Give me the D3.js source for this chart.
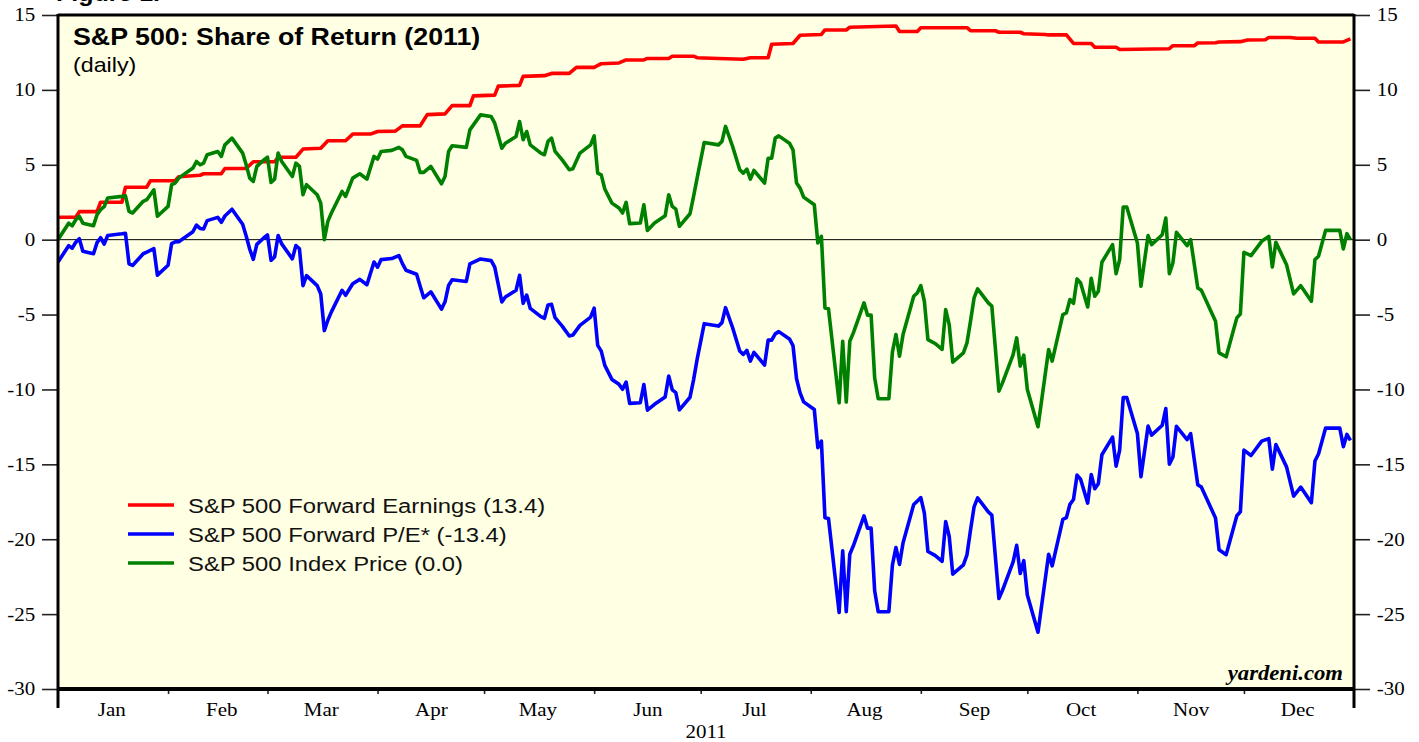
<!DOCTYPE html>
<html>
<head>
<meta charset="utf-8">
<script src="https://cdn.jsdelivr.net/npm/d3@7"></script>
<style>
  body { margin: 0; background: #fff; }
  svg { display: block; }
</style>
</head>
<body>
<svg width="1419" height="742"></svg>
<script>
// days counted from 1 Jan 2011
var priceDays = [
  0,3,4,5,6,7,10,11,12,13,
  14,18,19,20,21,24,25,27,28,31,
  32,33,34,38,39,40,41,42,45,46,
  47,49,52,53,54,55,56,58,59,60,
  61,62,63,66,67,68,69,70,73,74,
  75,76,77,80,81,83,85,87,89,90,
  91,94,96,97,98,101,102,103,105,108,
  109,110,111,115,116,119,122,123,125,126,
  129,130,131,132,133,136,137,138,139,140,
  142,144,145,147,150,151,152,153,154,156,
  158,159,160,161,164,165,166,168,171,172,
  173,174,175,178,179,180,182,186,187,188,
  190,192,193,194,195,196,199,200,201,202,
  203,206,207,208,209,210,213,214,215,216,
  217,220,221,222,223,224,227,228,229,230,
  231,234,235,236,237,238,241,242,243,244,
  245,247,249,250,251,252,255,256,257,258,
  259,262,263,265,266,269,270,271,272,273,
  276,279,280,283,284,285,286,287,288,290,
  291,292,293,294,297,298,299,300,301,304,
  305,307,308,311,312,313,314,315,318,319,
  321,322,326,327,329,332,333,334,336,339,
  341,342,343,346,348,350,353,354,355,357,
  361,362,363,364
];

// S&P 500 Index Price share of return
var priceVals = [
  0,1.1,0.93,1.33,1.56,1.1,0.93,1.67,2.0,2.2,
  2.78,2.89,2.93,1.89,1.78,2.56,2.67,3.33,1.56,2.22,
  3.67,3.78,4.11,4.78,5.22,5.0,5.11,5.67,5.89,5.56,
  6.33,6.78,5.78,5.0,4.11,3.89,4.89,5.33,5.51,3.82,
  4.04,5.78,5.22,4.22,5.11,4.89,3.0,3.67,3.0,2.44,
  0.0,1.22,1.78,3.22,2.89,4.11,4.4,4.04,5.56,5.38,
  5.89,5.96,6.16,6.0,5.56,5.29,4.49,4.49,4.89,3.73,
  4.22,5.89,6.27,6.16,7.33,8.33,8.22,7.78,6.11,6.44,
  6.89,7.89,6.67,7.22,6.33,5.78,5.67,6.56,6.78,5.89,
  5.33,4.67,4.73,5.78,6.33,6.93,4.44,4.33,3.38,2.44,
  2.11,1.78,2.49,1.07,1.11,2.33,0.62,1.11,1.6,3.0,
  2.22,2.04,0.89,1.73,2.89,4.11,6.49,6.33,6.56,7.56,
  6.22,4.67,4.44,4.71,4.04,4.62,3.78,5.44,5.44,6.78,
  6.93,6.44,6.0,3.78,3.44,2.84,2.33,-0.22,0.22,-4.56,
  -4.62,-10.89,-6.78,-10.84,-6.78,-6.22,-4.22,-5.04,-5.04,-9.22,
  -10.62,-10.62,-7.51,-6.33,-7.78,-6.33,-3.78,-3.56,-3.07,-4.11,
  -6.67,-6.93,-7.33,-4.67,-5.67,-8.18,-7.56,-6.89,-5.44,-3.89,
  -3.29,-4.22,-4.44,-10.11,-9.56,-7.67,-6.56,-8.44,-7.71,-10.0,
  -12.49,-7.33,-8.11,-5.0,-4.89,-4.0,-4.25,-2.62,-2.89,-4.49,
  -2.58,-3.78,-3.44,-1.51,-0.33,-2.27,-1.33,2.18,2.18,-0.22,
  -3.11,0.27,-0.33,0.33,1.44,-2.27,-1.56,0.49,-0.4,0.0,
  -3.22,-3.38,-5.44,-7.56,-7.82,-5.22,-4.96,-0.84,-1.07,-0.11,
  0.22,-1.82,-0.18,-1.67,-3.62,-3.07,-4.11,-1.33,-1.11,0.62,
  0.62,-0.62,0.4,0.0
];

// S&P 500 Forward P/E share of return (same days as price)
var peVals = [
  -1.5,-0.4,-0.57,-0.17,0.06,-0.77,-0.94,-0.2,0.13,-0.3,
  0.28,0.39,0.43,-1.61,-1.72,-0.94,-0.83,-0.6,-2.37,-1.71,
  -0.26,-0.15,-0.14,0.53,0.97,0.75,0.71,1.27,1.49,1.16,
  1.58,2.03,1.03,0.25,-0.64,-1.31,-0.31,0.13,0.31,-1.38,
  -1.16,0.28,-0.28,-1.28,-0.39,-0.61,-3.07,-2.4,-3.07,-3.63,
  -6.07,-5.38,-4.82,-3.38,-3.71,-2.94,-2.65,-3.01,-1.49,-1.84,
  -1.33,-1.26,-1.06,-1.6,-2.04,-2.31,-3.11,-3.88,-3.48,-4.64,
  -4.15,-3.06,-2.68,-2.79,-1.62,-1.29,-1.4,-1.84,-4.16,-3.83,
  -3.38,-2.38,-4.25,-3.7,-4.59,-5.14,-5.25,-4.36,-4.32,-5.21,
  -5.77,-6.43,-6.37,-5.72,-5.17,-4.57,-7.06,-7.44,-8.39,-9.33,
  -9.66,-9.99,-9.51,-10.93,-10.89,-9.67,-11.38,-10.99,-10.5,-9.1,
  -10.03,-10.21,-11.36,-10.52,-9.36,-7.99,-5.61,-5.77,-5.54,-4.54,
  -5.88,-7.43,-7.66,-7.39,-8.11,-7.53,-8.37,-6.71,-6.71,-6.29,
  -6.14,-6.63,-7.07,-9.29,-10.23,-10.83,-11.34,-13.89,-13.45,-18.56,
  -18.62,-24.89,-20.78,-24.84,-21.0,-20.44,-18.44,-19.26,-19.26,-23.44,
  -24.84,-24.84,-21.73,-20.55,-21.68,-20.23,-17.68,-17.46,-17.22,-18.26,
  -20.82,-21.08,-21.48,-18.82,-19.82,-22.33,-21.71,-21.04,-19.39,-17.84,
  -17.24,-18.17,-18.39,-23.96,-23.41,-21.52,-20.41,-22.29,-21.43,-23.72,
  -26.21,-21.0,-21.78,-18.67,-18.56,-17.67,-17.35,-15.72,-15.99,-17.59,
  -15.68,-16.63,-16.29,-14.36,-13.18,-15.12,-14.05,-10.54,-10.54,-12.94,
  -15.83,-12.45,-13.05,-12.39,-11.28,-14.99,-14.51,-12.46,-13.35,-12.95,
  -16.36,-16.52,-18.58,-20.7,-21.03,-18.43,-18.17,-14.05,-14.41,-13.45,
  -13.28,-15.32,-13.68,-15.17,-17.12,-16.52,-17.56,-14.78,-14.31,-12.58,
  -12.58,-13.82,-13.0,-13.4
];

// S&P 500 Forward Earnings share of return
var earnDays = [
  0,5,6,11,12,18,19,25,26,33,
  34,40,41,46,47,53,55,61,62,67,
  69,74,76,81,83,88,90,95,97,102,
  104,109,111,116,117,123,124,130,131,137,
  139,144,146,151,153,158,160,165,166,172,
  173,179,180,186,193,195,200,201,207,209,
  215,216,222,223,236,237,242,243,256,257,
  264,265,271,272,278,279,284,286,291,292,
  298,299,313,314,320,321,326,327,333,335,
  340,341,347,349,354,355,362,364
];
var earnVals = [
  1.5,1.5,1.87,1.87,2.5,2.5,3.5,3.5,3.93,3.93,
  4.2,4.3,4.4,4.4,4.75,4.75,5.2,5.2,5.5,5.5,
  6.05,6.1,6.6,6.6,7.05,7.05,7.22,7.25,7.6,7.6,
  8.35,8.4,8.95,8.95,9.6,9.65,10.25,10.3,10.9,10.95,
  11.1,11.1,11.5,11.5,11.75,11.8,12.0,12.0,12.1,12.1,
  12.25,12.25,12.15,12.1,12.05,12.15,12.15,13.05,13.1,13.65,
  13.7,14.0,14.0,14.18,14.27,13.9,13.9,14.15,14.15,13.95,
  13.95,13.85,13.85,13.75,13.7,13.67,13.67,13.1,13.1,12.85,
  12.85,12.7,12.75,12.95,12.95,13.13,13.15,13.2,13.22,13.33,
  13.35,13.5,13.5,13.45,13.45,13.2,13.2,13.4
];

var yTicks = [15, 10, 5, 0, -5, -10, -15, -20, -25, -30];
var legendLabels = [
  'S&P 500 Forward Earnings (13.4)',
  'S&P 500 Forward P/E* (-13.4)',
  'S&P 500 Index Price (0.0)'
];
var colors = ['#ff0000', '#0000ff', '#008000'];

var svg = d3.select('svg');
var plotL = 58, plotR = 1354, plotT = 15, plotB = 689;
var sx = 1.135; // text in the original is drawn a bit wide

function toDate(d) {
  return new Date(2011, 0, 1 + d);
}

var x = d3.scaleTime()
  .domain([new Date(2011, 0, 1), new Date(2012, 0, 1)])
  .range([plotL, plotR]);
var y = d3.scaleLinear().domain([-30, 15]).range([plotB, plotT]);

function wideText(g, px, py, str) {
  return g.append('text')
    .attr('transform', 'translate(' + px + ',' + py + ') scale(' + sx + ',1)')
    .text(str);
}

// partly cut figure caption at the very top
wideText(svg, 56, 1, 'Figure 1.')
  .attr('font-family', 'Liberation Sans, Arial, sans-serif')
  .attr('font-weight', 'bold')
  .attr('font-size', 22);

svg.append('rect')
  .attr('x', plotL).attr('y', plotT)
  .attr('width', plotR - plotL).attr('height', plotB - plotT)
  .attr('fill', '#ffffe3');

// zero line
svg.append('line')
  .attr('x1', plotL).attr('x2', plotR)
  .attr('y1', y(0)).attr('y2', y(0))
  .attr('stroke', '#000').attr('stroke-width', 1);

// axes
function styleAxis(g) {
  g.select('.domain').remove();
  g.selectAll('.tick line').attr('stroke', '#222').attr('stroke-width', 1.6);
  g.selectAll('.tick text')
    .attr('font-family', 'Liberation Serif, Times New Roman, serif')
    .attr('font-size', 18.5)
    .attr('fill', '#000');
}

function plainNum(v) {
  return String(v);
}

var yLeft = svg.append('g')
  .attr('transform', 'translate(' + plotL + ',0)')
  .call(d3.axisLeft(y).tickValues(yTicks).tickFormat(plainNum).tickSize(16).tickPadding(4));
styleAxis(yLeft);
yLeft.selectAll('.tick text').attr('transform', 'scale(' + sx + ',1)');

var yRight = svg.append('g')
  .attr('transform', 'translate(' + plotR + ',0)')
  .call(d3.axisRight(y).tickValues(yTicks).tickFormat(plainNum).tickSize(16).tickPadding(4));
styleAxis(yRight);
yRight.selectAll('.tick text').attr('transform', 'scale(' + sx + ',1)');

var monthStarts = d3.timeMonth.range(new Date(2011, 0, 1), new Date(2012, 0, 1));
var xTicks = svg.append('g')
  .attr('transform', 'translate(0,' + plotB + ')')
  .call(d3.axisBottom(x).tickValues(monthStarts.slice(1)).tickSize(5).tickFormat(''));
styleAxis(xTicks);

var midMonths = monthStarts.map(function(m) {
  return new Date(m.getFullYear(), m.getMonth(), 16);
});
var xLabels = svg.append('g')
  .attr('transform', 'translate(0,' + plotB + ')')
  .call(d3.axisBottom(x).tickValues(midMonths).tickSize(0).tickPadding(14)
    .tickFormat(d3.timeFormat('%b')));
styleAxis(xLabels);
xLabels.selectAll('.tick text').attr('transform', 'scale(' + sx + ',1)');

wideText(svg, (plotL + plotR) / 2, 738, '2011')
  .attr('text-anchor', 'middle')
  .attr('font-family', 'Liberation Serif, Times New Roman, serif')
  .attr('font-size', 18.5);

// series
var line = d3.line()
  .x(function(d) { return x(d[0]); })
  .y(function(d) { return y(d[1]); });

var series = [
  earnDays.map(function(d, i) { return [toDate(d), earnVals[i]]; }),
  priceDays.map(function(d, i) { return [toDate(d), peVals[i]]; }),
  priceDays.map(function(d, i) { return [toDate(d), priceVals[i]]; })
];

svg.append('clipPath').attr('id', 'plot')
  .append('rect')
  .attr('x', plotL).attr('y', plotT)
  .attr('width', plotR - plotL).attr('height', plotB - plotT);

svg.append('g')
  .attr('clip-path', 'url(#plot)')
  .selectAll('path')
  .data(series)
  .enter()
  .append('path')
  .attr('d', line)
  .attr('fill', 'none')
  .attr('stroke', function(d, i) { return colors[i]; })
  .attr('stroke-width', 3.6)
  .attr('stroke-linejoin', 'round');

// frame
svg.append('path')
  .attr('d', 'M' + plotL + ',' + plotT + 'H' + plotR)
  .attr('stroke', '#000').attr('stroke-width', 3);
svg.append('path')
  .attr('d', 'M' + plotL + ',' + plotB + 'H' + plotR)
  .attr('stroke', '#000').attr('stroke-width', 4);
svg.append('path')
  .attr('d', 'M' + plotL + ',' + (plotT - 1) + 'V708')
  .attr('stroke', '#000').attr('stroke-width', 3);
svg.append('path')
  .attr('d', 'M' + plotR + ',' + (plotT - 1) + 'V708')
  .attr('stroke', '#000').attr('stroke-width', 3);

// title
wideText(svg, 73, 45, 'S&P 500: Share of Return (2011)')
  .attr('font-family', 'Liberation Sans, Arial, sans-serif')
  .attr('font-weight', 'bold')
  .attr('font-size', 23.6);
wideText(svg, 73, 72, '(daily)')
  .attr('font-family', 'Liberation Sans, Arial, sans-serif')
  .attr('font-size', 20.5);

// legend
var legend = svg.append('g');
legendLabels.forEach(function(label, i) {
  var ly = 505 + i * 29;
  legend.append('line')
    .attr('x1', 128).attr('x2', 174)
    .attr('y1', ly).attr('y2', ly)
    .attr('stroke', colors[i]).attr('stroke-width', 3.6);
  wideText(legend, 188, ly + 8, label)
    .attr('font-family', 'Liberation Sans, Arial, sans-serif')
    .attr('font-size', 21)
    .attr('fill', '#111');
});

wideText(svg, 1343, 680, 'yardeni.com')
  .attr('text-anchor', 'end')
  .attr('font-family', 'Liberation Serif, Times New Roman, serif')
  .attr('font-weight', 'bold')
  .attr('font-style', 'italic')
  .attr('font-size', 20);
</script>
</body>
</html>
